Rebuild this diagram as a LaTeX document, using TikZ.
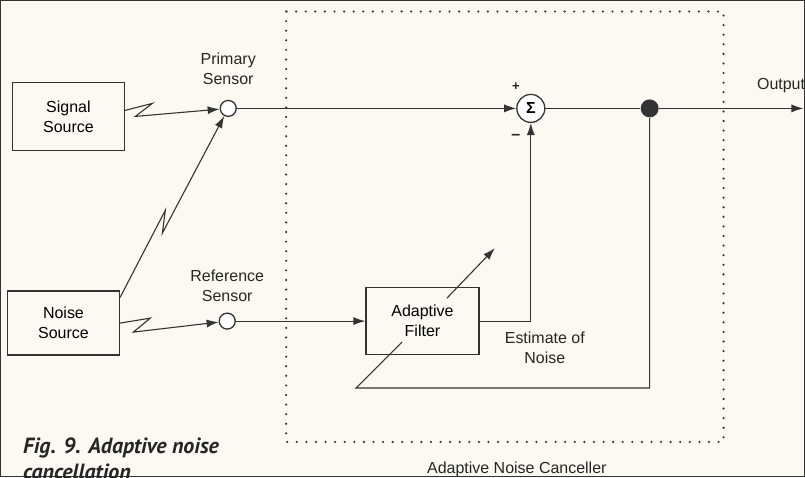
\documentclass[tikz,border=0pt]{standalone}
\usepackage{fontspec}
\setmainfont{Liberation Sans}
\newfontfamily\capfont{PT Sans}
\usetikzlibrary{arrows.meta}
\definecolor{cream}{HTML}{FBF9F1}
\definecolor{ink}{HTML}{333333}
\begin{document}
\begin{tikzpicture}[x=1pt,y=-1pt,
  font=\fontsize{16}{20}\selectfont,
  line width=1.1pt,
  every path/.style={draw=ink},
  block/.style={draw=ink, line width=1.4pt, align=center, fill=cream},
  sensor/.style={circle, draw=ink, line width=1.3pt, fill=white, minimum size=16pt, inner sep=0pt},
  lbl/.style={align=center, text=black!85},
  arr/.style={-{Latex[length=12pt,width=8pt]}},
  dotbox/.style={draw=ink, line width=2.4pt, line cap=round, dash pattern=on 0pt off 9.6pt},
  caption/.style={align=left, font=\capfont\bfseries\itshape\fontsize{22}{26}\selectfont, text=black!85}]
\fill[cream] (0,0) rectangle (805,477);
\useasboundingbox (0,0) rectangle (805,477);

% dotted canceller frame
\draw[dotbox] (286,11) rectangle (724,442);

% nodes
\node[block, minimum width=112pt, minimum height=68pt] (sig) at (68,116) {Signal\\Source};
\node[block, minimum width=112pt, minimum height=64pt] (noise) at (63,323) {Noise\\Source};
\node[sensor] (ps) at (228,108) {};
\node[lbl] (psl) at (228,68) {Primary\\Sensor};
\node[sensor] (rs) at (227,321) {};
\node[lbl] (rsl) at (227,286) {Reference\\Sensor};
\node[circle, draw=ink, line width=1.3pt, fill=white, minimum size=28pt, inner sep=0pt] (sum) at (531,108) {\bfseries Σ};
\node[lbl, font=\fontsize{13}{14}\selectfont\bfseries] (plus) at (516,86) {+};
\node[lbl, font=\fontsize{16}{16}\selectfont\bfseries] (minus) at (516,137) {\textendash};
\node[circle, fill=ink, minimum size=18pt, inner sep=0pt] (jn) at (650,108) {};
\node[lbl, anchor=west, inner sep=0pt] (out) at (757,85) {Output};
\coordinate (outend) at (804,108);
\node[block, minimum width=113pt, minimum height=67pt] (af) at (422.5,321) {Adaptive\\Filter};
\node[lbl] (est) at (545,348) {Estimate of\\Noise};
\node[lbl] (anc) at (517,469) {Adaptive Noise Canceller};
\node[caption, anchor=north west, inner sep=0pt] (cap) at (22,437) {Fig. 9. Adaptive noise\\cancellation};

\coordinate (fb2) at (356,388);
\coordinate (fb3) at (402,342);
\coordinate (adstart) at (447,298);
\coordinate (adtip) at (495,248);
\coordinate (z1) at (152,103);
\coordinate (z2) at (135,116);
\coordinate (z3) at (165,210);
\coordinate (z4) at (162,233);
\coordinate (z5) at (150,318);
\coordinate (z6) at (133,332);

% connectors
\draw[arr] ([yshift=6pt]sig.east) -- (z1) -- (z2) -- (ps);
\draw[arr] ([yshift=-7pt]noise.north east) -- (z3) -- (z4) -- (ps);
\draw[arr] (noise.east) -- (z5) -- (z6) -- (rs);
\draw[arr] (ps) -- (sum);
\draw (sum) -- (jn);
\draw[arr] (jn) -- (outend);
\draw[arr] (rs) -- (af);
\draw[arr] (af.east) -| (sum.south);
\draw (jn) |- (fb2) -- (fb3);
\draw[arr] (adstart) -- (adtip);
\end{tikzpicture}
\end{document}
